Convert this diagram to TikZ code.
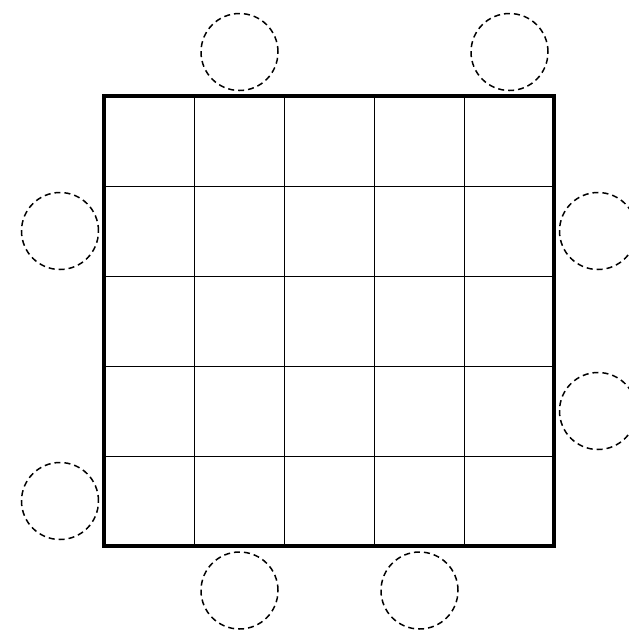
\documentclass[tikz,border=0pt]{standalone}
\begin{document}
\begin{tikzpicture}[x=1pt,y=-1pt,
  slot/.style={circle,draw,dash pattern=on 6pt off 4pt,line width=1.5pt,minimum size=77pt,inner sep=0pt},
  thinline/.style={line width=1pt},
  frame/.style={line width=4pt}]
\useasboundingbox (0,0) rectangle (629,630);
\foreach \i in {1,...,4}{
  \draw[thinline] (104+90*\i,96) -- (104+90*\i,546);
  \draw[thinline] (104,96+90*\i) -- (554,96+90*\i);
}
\draw[frame] (104,96) rectangle (554,546);
\node[slot] (t1) at (239.5,52) {};
\node[slot] (t2) at (509.5,52) {};
\node[slot] (l1) at (60,231) {};
\node[slot] (l2) at (60,501) {};
\node[slot] (r1) at (598,231) {};
\node[slot] (r2) at (598,411) {};
\node[slot] (b1) at (239.5,590.5) {};
\node[slot] (b2) at (419.5,590.5) {};
\end{tikzpicture}
\end{document}
